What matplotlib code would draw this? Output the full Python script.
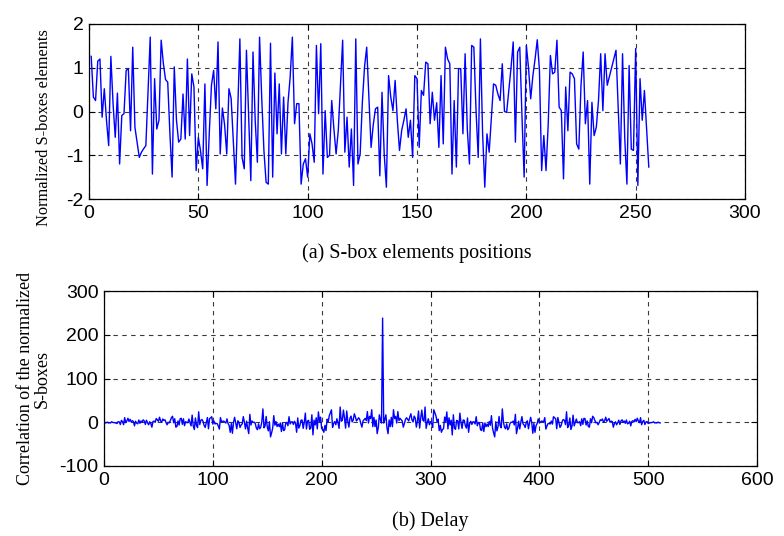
import numpy as np
import matplotlib
matplotlib.use("Agg")
import matplotlib.pyplot as plt

plt.rcParams["axes.unicode_minus"] = False

# Normalized S-box elements, positions 1..256
sbox_norm = [
    1.26, 0.33, 0.25, 1.15, 1.2, -0.13, 0.52, -0.2, -0.78, 1.26,
    0.18, -0.59, 0.42, -1.2, -0.09, -0.05, 0.94, 0.98, -0.44, 1.47,
    -0.36, -0.7, -1.05, -0.93, -0.85, -0.78, 0.46, 1.7, -1.43, 0.75,
    -0.4, -0.2, 1.63, 1.1, 0.73, 0.67, -0.5, -1.5, 1.02, -0.2,
    -0.7, -0.63, 0.4, -0.63, 1.2, -0.55, 0.86, 0.56, -1.35, -0.59,
    -0.9, -1.31, 0.63, -1.69, -0.5, 0.6, 0.94, 0.06, 1.59, -0.97,
    0.08, -0.3, -0.97, 0.52, 0.3, -0.7, -1.66, 0.0, 1.66, -1.05,
    -1.31, 1.4, -0.1, -1.58, 1.36, -0.2, -1.16, 1.7, 0.3, -0.9,
    -1.62, -1.66, 1.56, -1.5, 0.88, -0.51, 0.63, -0.97, 0.33, -0.97,
    0.2, 0.79, 1.7, -0.28, 0.18, 0.18, -1.66, -1.2, -1.08, -1.5,
    -0.51, -0.74, -1.16, 1.51, -0.05, 1.55, -1.43, 0.02, -1.05, -1.0,
    0.25, -0.4, -0.97, -0.43, 0.6, 1.63, -0.93, -0.13, -1.27, -0.4,
    -1.69, 1.66, -1.2, -0.97, 0.2, 1.02, 1.47, 0.3, -0.82, -0.3,
    0.06, 0.1, -1.47, 0.44, -0.97, -1.73, 0.82, 0.33, 0.02, 0.71,
    -0.2, -0.89, -0.43, -0.2, 0.06, -0.59, -0.2, -1.05, 0.82, 0.75,
    -0.82, 0.48, 0.37, 1.13, 1.09, -0.28, 0.44, -0.2, 0.2, -0.82,
    0.82, -0.74, 1.47, 1.2, 1.09, -1.43, 0.25, -1.27, 0.98, 0.98,
    -0.51, 1.32, -0.4, -1.2, 1.51, 1.47, 0.02, -1.05, 1.66, -0.5,
    -1.73, -0.51, -0.93, -0.13, 0.63, 0.6, 0.4, 0.25, 1.09, 0.0,
    -0.02, 0.48, 1.0, 1.59, -0.7, 1.36, 1.47, -0.1, -1.5, 1.51,
    1.0, 0.29, 0.82, 1.2, 1.64, 0.94, -1.35, -0.55, -1.35, -0.3,
    1.28, 0.86, 0.9, 1.63, 0.1, 0.02, -1.54, 0.56, -0.44, 0.9,
    0.86, 0.75, -0.74, -0.86, 0.6, 1.36, -0.28, 0.25, -1.66, 0.21,
    -0.55, -0.36, 0.25, 1.32, 0.02, 1.32, 0.6, 0.8, 1.0, 1.2,
    1.4, 0.1, -1.2, 1.32, -0.6, -1.66, 1.05, -0.86, -0.89, 1.44,
    -1.69, 0.75, -0.2, 0.48, -0.4, -1.27,
]

top_xticks = [0, 50, 100, 150, 200, 250, 300]
top_yticks = [-2, -1, 0, 1, 2]
bot_xticks = [0, 100, 200, 300, 400, 500, 600]
bot_yticks = [-100, 0, 100, 200, 300]

top_ylabel = "Normalized S-boxes elements"
top_caption = "(a) S-box elements positions"
bot_ylabel = "Correlation of the normalized\nS-boxes"
bot_caption = "(b) Delay"

y = np.asarray(sbox_norm, dtype=float)
x = np.arange(1, len(y) + 1)
# correlation of the normalized S-box sequence (all delays)
corr = np.correlate(y, y, mode="full")
xc = np.arange(1, len(corr) + 1)

W, H = 784, 536
fig = plt.figure(figsize=(W / 100, H / 100), dpi=100)

tick_family = "Liberation Sans"
tick_size = 14
serif = "Liberation Serif"

def px_axes(l, r, t, b):
    return fig.add_axes([l / W, 1 - b / H, (r - l) / W, (b - t) / H])

def style(ax, xt, yt):
    ax.set_xticks(xt)
    ax.set_yticks(yt)
    ax.set_xlim(xt[0], xt[-1])
    ax.set_ylim(yt[0], yt[-1])
    ax.tick_params(direction="in", length=4, width=0.8, top=True, right=True,
                   pad=4)
    for lab in ax.get_xticklabels() + ax.get_yticklabels():
        lab.set_fontfamily(tick_family)
        lab.set_fontsize(tick_size)
    ax.grid(True, color="#3a3a3a", linestyle=(0, (4, 4)), linewidth=0.8)
    for s in ax.spines.values():
        s.set_linewidth(0.9)

ax1 = px_axes(89, 745, 24, 199)
ax1.plot(x, y, color="#0000ff", linewidth=1.0)
style(ax1, top_xticks, top_yticks)
ax1.set_ylabel(top_ylabel, family=serif, fontsize=11.8)
ax1.yaxis.set_label_coords(-0.057, 0.41)
ax1.set_xlabel(top_caption, family=serif, fontsize=14.5)
ax1.xaxis.set_label_coords(0.5, -54 / 175)
ax1.xaxis.label.set_va("center")

ax2 = px_axes(104, 757, 291, 466)
ax2.plot(xc, corr, color="#0000ff", linewidth=1.0)
style(ax2, bot_xticks, bot_yticks)
ax2.set_ylabel(bot_ylabel, family=serif, fontsize=13, linespacing=1.0)
ax2.yaxis.set_label_coords(-0.081, 0.5)
ax2.set_xlabel(bot_caption, family=serif, fontsize=14.5)
ax2.xaxis.set_label_coords(0.5, -55 / 175)
ax2.xaxis.label.set_va("center")

fig.savefig("out.png", dpi=100)
